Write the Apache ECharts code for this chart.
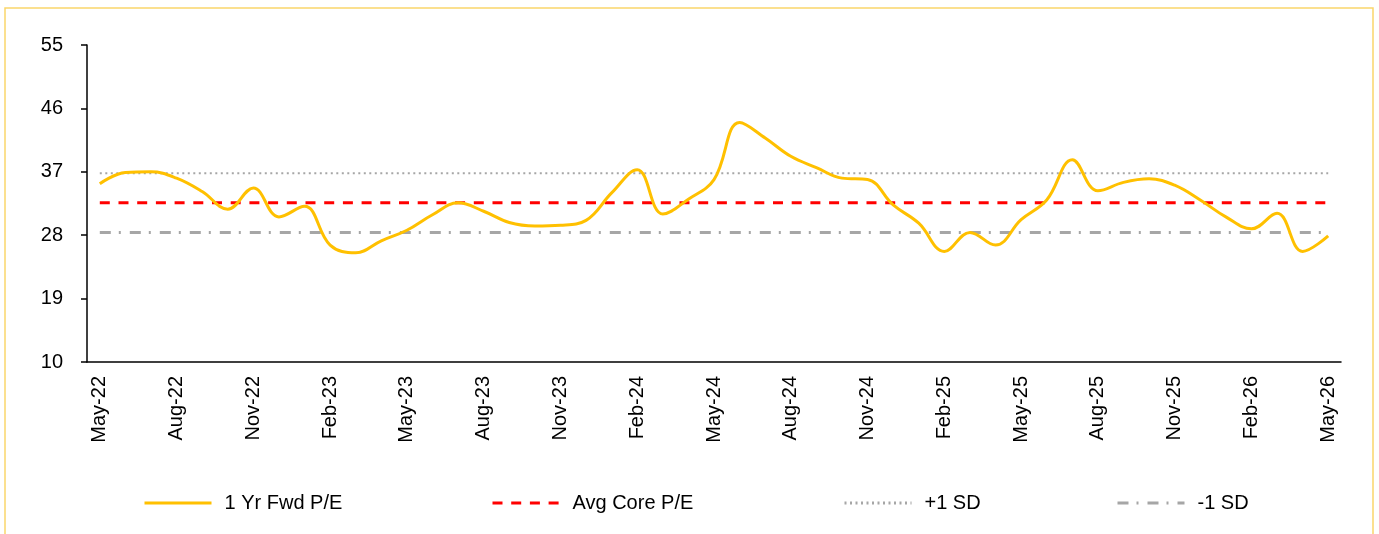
<!DOCTYPE html>
<html>
<head>
<meta charset="utf-8">
<script src="https://cdn.jsdelivr.net/npm/echarts@6/dist/echarts.min.js"></script>
<style>
  html, body { margin: 0; padding: 0; background: #fff; }
  #chart { width: 1379px; height: 534px; }
</style>
</head>
<body>
<div id="chart"></div>
<script>
// monthly, May-22 .. May-26
const months = [
  "May-22", "Jun-22", "Jul-22", "Aug-22", "Sep-22", "Oct-22", "Nov-22", "Dec-22",
  "Jan-23", "Feb-23", "Mar-23", "Apr-23", "May-23", "Jun-23", "Jul-23", "Aug-23",
  "Sep-23", "Oct-23", "Nov-23", "Dec-23", "Jan-24", "Feb-24", "Mar-24", "Apr-24",
  "May-24", "Jun-24", "Jul-24", "Aug-24", "Sep-24", "Oct-24", "Nov-24", "Dec-24",
  "Jan-25", "Feb-25", "Mar-25", "Apr-25", "May-25", "Jun-25", "Jul-25", "Aug-25",
  "Sep-25", "Oct-25", "Nov-25", "Dec-25", "Jan-26", "Feb-26", "Mar-26", "Apr-26",
  "May-26"
];

const fwdPE = [
  35.3, 36.9, 37.0, 36.1, 34.2, 31.7, 34.7, 30.6, 32.1, 26.6,
  25.5, 27.2, 28.7, 30.9, 32.6, 31.4, 29.8, 29.3, 29.4, 30.1,
  34.0, 37.3, 31.0, 33.1, 35.9, 44.0, 41.8, 39.2, 37.6, 36.1,
  35.9, 32.3, 29.7, 25.7, 28.4, 26.6, 30.2, 33.0, 38.7, 34.3,
  35.5, 36.0, 35.1, 33.0, 30.6, 28.9, 31.1, 25.7, 27.9
];

const avgCore = 32.6;
const plusSD = 36.8;
const minusSD = 28.4;

const yMin = 10, yMax = 55, yStep = 9;

const seriesNames = ["1 Yr Fwd P/E", "Avg Core P/E", "+1 SD", "-1 SD"];
const legendLeft = [138, 486, 838, 1111];

const flat = v => months.map(() => v);

const chart = echarts.init(document.getElementById("chart"));

const font = "'Liberation Sans', Arial, sans-serif";

// one legend per item so each can sit where the original has it
const legends = seriesNames.map((name, i) => ({
  left: legendLeft[i],
  top: 488,
  itemWidth: 67,
  itemHeight: 18,
  itemStyle: { opacity: 0 },
  lineStyle: { width: 3 },
  textStyle: { fontFamily: font, fontSize: 20, color: "#000", padding: [0, 0, 0, 8] },
  data: [name]
}));

const option = {
  animation: false,
  backgroundColor: "#ffffff",
  textStyle: { fontFamily: font },
  graphic: [{
    type: "rect",
    shape: { x: 5, y: 8, width: 1368, height: 540 },
    style: { fill: "none", stroke: "#FAD66B", lineWidth: 1.5 },
    silent: true
  }],
  grid: { left: 87, right: 38, top: 45, bottom: 172, containLabel: false },
  legend: legends,
  xAxis: {
    type: "category",
    data: months,
    boundaryGap: true,
    axisLine: { lineStyle: { color: "#000", width: 1.5 } },
    axisTick: { interval: 2, length: 6, lineStyle: { color: "#000", width: 1.5 } },
    axisLabel: {
      interval: 2,
      rotate: 90,
      margin: 14,
      color: "#000",
      fontSize: 20,
      fontFamily: font
    },
    splitLine: { show: false }
  },
  yAxis: {
    type: "value",
    min: yMin,
    max: yMax,
    interval: yStep,
    axisLine: { show: true, lineStyle: { color: "#000", width: 1.5 } },
    axisTick: { show: true, length: 6, lineStyle: { color: "#000", width: 1.5 } },
    axisLabel: { margin: 24, color: "#000", fontSize: 20, fontFamily: font },
    splitLine: { show: false }
  },
  series: [
    {
      name: "+1 SD",
      type: "line",
      data: flat(plusSD),
      symbol: "none",
      lineStyle: { color: "#A6A6A6", width: 2, type: [2, 3.5] },
      itemStyle: { color: "#A6A6A6" },
      z: 2
    },
    {
      name: "-1 SD",
      type: "line",
      data: flat(minusSD),
      symbol: "none",
      lineStyle: { color: "#A6A6A6", width: 3, type: [11, 8, 2, 9] },
      itemStyle: { color: "#A6A6A6" },
      z: 2
    },
    {
      name: "Avg Core P/E",
      type: "line",
      data: flat(avgCore),
      symbol: "none",
      lineStyle: { color: "#FF0000", width: 3, type: [10, 8.7] },
      itemStyle: { color: "#FF0000" },
      z: 3
    },
    {
      name: "1 Yr Fwd P/E",
      type: "line",
      data: fwdPE,
      symbol: "none",
      smooth: 0.4,
      lineStyle: { color: "#FFC000", width: 3 },
      itemStyle: { color: "#FFC000" },
      z: 4
    }
  ]
};

chart.setOption(option);
</script>
</body>
</html>
